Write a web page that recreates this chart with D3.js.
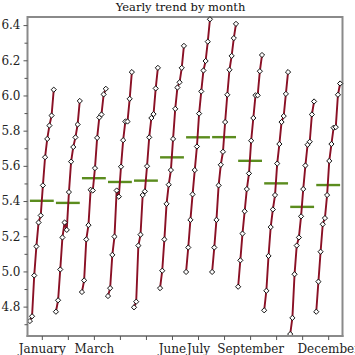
<!DOCTYPE html>
<html><head><meta charset="utf-8">
<script src="https://cdn.jsdelivr.net/npm/d3@7"></script>
<style>body{margin:0;background:#fff}svg{display:block}text{font-family:"DejaVu Serif",serif}</style>
</head><body><svg id="c" width="355" height="355"></svg>
<script>
const months = ["January","February","March","April","May","June","July","August","September","October","November","December"];
const shownLabels = ["January","March","June","July","September","December"];
const jan = [4.718,4.745,4.977,5.142,5.278,5.318,5.489,5.649,5.753,5.829,5.886,6.033];
const feb = [4.771,4.836,5.011,5.193,5.278,5.236,5.451,5.624,5.707,5.762,5.835,5.969];
const mar = [4.883,4.949,5.182,5.263,5.464,5.460,5.587,5.759,5.875,5.892,6.006,6.038];
const apr = [4.860,4.905,5.094,5.198,5.460,5.425,5.595,5.746,5.852,5.852,5.981,6.133];
const may = [4.796,4.828,5.147,5.209,5.434,5.455,5.598,5.762,5.872,5.894,6.040,6.157];
const jun = [4.905,5.004,5.182,5.384,5.493,5.576,5.753,5.924,6.045,6.075,6.157,6.282];
const jul = [4.997,5.136,5.293,5.438,5.576,5.710,5.897,6.023,6.142,6.196,6.306,6.433];
const aug = [4.997,5.136,5.293,5.489,5.606,5.680,5.849,6.004,6.146,6.225,6.326,6.407];
const sep = [4.913,5.063,5.215,5.342,5.468,5.557,5.743,5.872,6.001,6.001,6.138,6.230];
const oct = [4.779,4.890,5.088,5.252,5.352,5.434,5.613,5.724,5.849,5.883,6.009,6.133];
const nov = [4.644,4.736,4.984,5.147,5.193,5.313,5.468,5.602,5.720,5.737,5.892,5.966];
const dec = [4.771,4.942,5.112,5.268,5.303,5.434,5.628,5.724,5.817,5.820,6.004,6.068];
const yTicks = [4.8,5.0,5.2,5.4,5.6,5.8,6.0,6.2,6.4];
const yMinorTicks = [4.7,4.9,5.1,5.3,5.5,5.7,5.9,6.1,6.3];

const series = [jan,feb,mar,apr,may,jun,jul,aug,sep,oct,nov,dec];
const svg = d3.select("#c");
const L = 27.5, R = 342.5, T = 17, B = 336;
const x = d3.scaleLinear().domain([-1.1, 144.1]).range([L, R]);
const y = d3.scaleLinear().domain([4.633, 6.446]).range([B, T]);

// segments
let start = 0;
const segs = series.map((vals, i) => {
  const pts = vals.map((v, j) => ({x: start + j, y: v}));
  const s = {month: months[i], pts, tick: start + (vals.length - 1) / 2, mean: d3.mean(vals), x0: start, x1: start + vals.length - 1};
  start += vals.length;
  return s;
});

// frame
const frameColor = "#8a8a8a";
svg.append("line").attr("x1", L).attr("x2", R).attr("y1", T).attr("y2", T).attr("stroke", frameColor).attr("stroke-width", 2);
svg.append("line").attr("x1", R).attr("x2", R).attr("y1", T - 1).attr("y2", B + 1).attr("stroke", frameColor).attr("stroke-width", 2);

// mean lines
svg.append("g").selectAll("line").data(segs).join("line")
  .attr("x1", d => x(d.x0)).attr("x2", d => x(d.x1))
  .attr("y1", d => y(d.mean)).attr("y2", d => y(d.mean))
  .attr("stroke", "#5b8c1e").attr("stroke-width", 2.4);

// data lines
const line = d3.line().x(d => x(d.x)).y(d => y(d.y));
svg.append("g").selectAll("path").data(segs).join("path")
  .attr("d", d => line(d.pts)).attr("fill", "none")
  .attr("stroke", "#8a1025").attr("stroke-width", 1.9);

// markers
const diamond = "M0,-2.6L2.6,0L0,2.6L-2.6,0Z";
svg.append("g").selectAll("path").data(segs.flatMap(s => s.pts)).join("path")
  .attr("d", diamond).attr("transform", d => `translate(${x(d.x)},${y(d.y)})`)
  .attr("fill", "#fff").attr("stroke", "#111").attr("stroke-width", 1);

// y axis
const yAxis = svg.append("g").attr("transform", `translate(${L},0)`)
  .call(d3.axisLeft(y).tickValues(yTicks).tickFormat(d3.format(".1f")).tickSizeOuter(0).tickSize(4).tickPadding(3));
const yMinor = svg.append("g").attr("transform", `translate(${L},0)`)
  .call(d3.axisLeft(y).tickValues(yMinorTicks).tickFormat("").tickSizeOuter(0).tickSize(3));
yMinor.select(".domain").remove();
yMinor.selectAll("line").attr("stroke", "#555");

// x axis
const xAxis = svg.append("g").attr("transform", `translate(0,${B})`)
  .call(d3.axisBottom(x).tickValues(segs.map(s => s.tick))
    .tickFormat((d, i) => shownLabels.includes(months[i]) ? months[i] : "")
    .tickSizeOuter(0).tickSize(4).tickPadding(4));

[yAxis, xAxis].forEach(g => {
  g.select(".domain").attr("stroke", frameColor).attr("stroke-width", 2);
  g.selectAll(".tick line").attr("stroke", "#555");
  g.selectAll("text").attr("font-family", "DejaVu Serif").attr("font-size", 12).attr("fill", "#222");
});
yAxis.select(".domain").attr("d", `M0,${T - 1}V${B + 1}`);
xAxis.select(".domain").attr("d", `M${L - 1},0H${R + 1}`);

// title
svg.append("text").attr("x", 180.5).attr("y", 11).attr("text-anchor", "middle")
  .attr("font-size", 11.5).attr("fill", "#111").text("Yearly trend by month");
</script></body></html>
